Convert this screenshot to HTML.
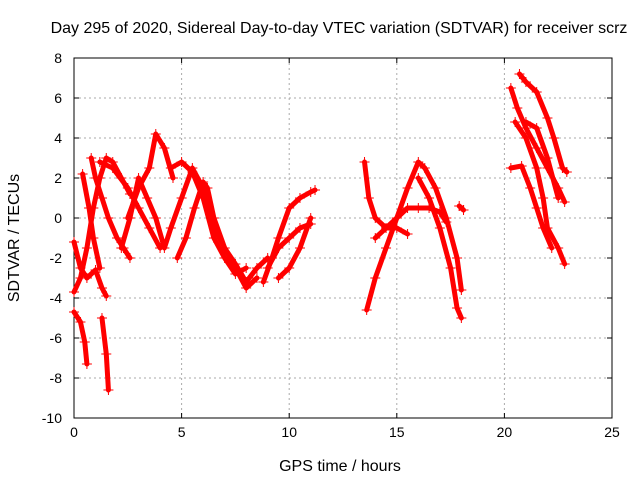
<!DOCTYPE html>
<html><head><meta charset="utf-8"><style>
body{margin:0;background:#fff;}
svg{display:block;font-family:"Liberation Sans",sans-serif;}
</style></head><body>
<svg id="chart" width="640" height="480"></svg>
<script>
const xTicks=[0,5,10,15,20,25];
const yTicks=[8,6,4,2,0,-2,-4,-6,-8,-10];
const tr1=[[0,-1.2],[0.3,-2.5],[0.6,-3],[1.0,-2.6],[1.3,-3.5],[1.5,-3.9]];
const tr2=[[0,-3.7],[0.3,-3],[0.6,-1.5],[0.9,0.5],[1.2,2],[1.5,3],[1.8,2.8],[2.2,2],[2.6,1.2]];
const tr3=[[0,-4.7],[0.3,-5.2],[0.5,-6.2],[0.6,-7.3]];
const tr4=[[1.3,-5],[1.5,-6.8],[1.6,-8.6]];
const tr5=[[0.4,2.2],[0.7,0.5],[0.9,-1],[1.2,-2.5]];
const tr6=[[0.8,3],[1,2],[1.3,1],[1.6,0],[2,-1],[2.3,-1.5],[2.6,-2]];
const tr7=[[1.2,2.8],[1.8,2.5],[2.5,1.5],[3,0.5],[3.5,-0.5],[4,-1.5]];
const tr8=[[2.5,0],[3,1.5],[3.5,2.5],[3.8,4.2],[4.2,3.5],[4.6,2]];
const tr9=[[2.2,-1.5],[2.6,0],[3,2],[3.4,1],[3.8,0],[4.2,-1.5],[4.5,-0.5],[5,1],[5.5,2.5],[6,1.5],[6.5,-0.5],[7,-1.5],[7.5,-2.3],[8,-3.2],[8.5,-2.5],[9,-2]];
const tr10=[[4.8,-2],[5.2,-1],[5.6,0.5],[6,1.8],[6.2,1.5],[6.5,0],[7,-1.5],[7.5,-2.5],[8,-3.5],[8.5,-3]];
const tr11=[[4.5,2.5],[5,2.8],[5.5,2.3],[6,1],[6.5,-1],[7,-2],[7.5,-2.8],[8,-2.5]];
const tr12=[[8.8,-3.2],[9.2,-2],[9.5,-1],[10,0.5],[10.5,1],[11,1.3],[11.2,1.4]];
const tr13=[[9,-2.5],[9.5,-1.5],[10,-1],[10.5,-0.5],[11,-0.3]];
const tr14=[[9.5,-3],[10,-2.5],[10.5,-1.5],[11,0]];
const tr15=[[13.5,2.8],[13.7,1],[14,0],[14.5,-0.5],[15,0],[15.5,0.5],[16,0.5],[16.5,0.5],[17,0.3],[17.3,-0.2]];
const tr16=[[13.6,-4.6],[14,-3],[14.5,-1.5],[15,0],[15.5,1.5],[16,2.8],[16.3,2.5],[16.8,1.5],[17.3,0],[17.8,-2],[18,-3.6]];
const tr17=[[14,-1],[14.5,-0.5],[15,-0.5],[15.5,-0.8]];
const tr18=[[16,2],[16.5,1],[17,-0.5],[17.5,-2.5],[17.8,-4.5],[18,-5]];
const tr19=[[17.9,0.6],[18.1,0.4]];
const tr20=[[20.3,6.5],[20.6,5.5],[21,4.5],[21.5,3.5],[22,2.5],[22.5,1.5],[22.8,0.8]];
const tr21=[[20.7,7.2],[21,6.8],[21.5,6.3],[22,5],[22.3,4],[22.7,2.5],[22.9,2.3]];
const tr22=[[20.3,2.5],[20.8,2.6],[21.2,1.5],[21.5,0.5],[21.8,-0.5],[22.2,-1.5]];
const tr23=[[20.5,4.8],[21,4],[21.5,2.5],[21.8,1],[22,-0.5],[22.5,-1.5],[22.8,-2.3]];
const tr24=[[21,4.8],[21.5,4.5],[22,3],[22.5,1]];
const tracks=[tr1,tr2,tr3,tr4,tr5,tr6,tr7,tr8,tr9,tr10,tr11,tr12,tr13,tr14,tr15,tr16,tr17,tr18,tr19,tr20,tr21,tr22,tr23,tr24];

const L=74,R=612,T=58,B=418;
const xs=t=>L+(t-0)/25*(R-L);
const ys=v=>T+(8-v)/18*(B-T);
const NS="http://www.w3.org/2000/svg";
const svg=document.getElementById('chart');
function mk(tag,attrs,parent){const e=document.createElementNS(NS,tag);for(const k in attrs)e.setAttribute(k,attrs[k]);(parent||svg).appendChild(e);return e;}

const grid=mk('g',{});


xTicks.forEach(t=>{
  if(t>0&&t<25){const l=mk('line',{x1:xs(t),x2:xs(t),y1:T,y2:B,stroke:'#aaa','stroke-dasharray':'2,3','stroke-width':1},grid);
  }
  const tk=mk('text',{x:xs(t),y:B+19,'text-anchor':'middle','font-size':14,fill:'#000'});
  tk.textContent=t;
  
  
  mk('line',{x1:xs(t),x2:xs(t),y1:B,y2:B-5,stroke:'#000'});
  mk('line',{x1:xs(t),x2:xs(t),y1:T,y2:T+5,stroke:'#000'});
});
yTicks.forEach(v=>{
  if(v<8&&v>-10){const l=mk('line',{x1:L,x2:R,y1:ys(v),y2:ys(v),stroke:'#aaa','stroke-dasharray':'2,3','stroke-width':1},grid);
  }
  const tk=mk('text',{x:L-12,y:ys(v)+5,'text-anchor':'end','font-size':14,fill:'#000'});
  tk.textContent=v;
  
  
  mk('line',{x1:L,x2:L+5,y1:ys(v),y2:ys(v),stroke:'#000'});
  mk('line',{x1:R,x2:R-5,y1:ys(v),y2:ys(v),stroke:'#000'});
});
const frame=mk('rect',{x:L,y:T,width:R-L,height:B-T,fill:'none',stroke:'#000'});



tracks.forEach(tr=>{
  const pts=tr.map(p=>xs(p[0])+','+ys(p[1])).join(' ');
  const pl=mk('polyline',{points:pts,fill:'none',stroke:'#f00','stroke-width':5,'stroke-linejoin':'round','stroke-linecap':'round'});
  
  
  tr.forEach(p=>{
    const x=xs(p[0]),y=ys(p[1]);
    const m=mk('path',{d:`M${x-5},${y}H${x+5}M${x},${y-5}V${y+5}`,stroke:'#f00','stroke-width':1});
    
    
  });
});

const title=mk('text',{x:339,y:33,'text-anchor':'middle','font-size':16,fill:'#000'});
title.textContent='Day 295 of 2020, Sidereal Day-to-day VTEC variation (SDTVAR) for receiver scrz';


const xl=mk('text',{x:340,y:471,'text-anchor':'middle','font-size':16,fill:'#000'});
xl.textContent='GPS time / hours';


const yl=mk('text',{x:19,y:238,'text-anchor':'middle','font-size':16,fill:'#000',transform:'rotate(-90 19 238)'});
yl.textContent='SDTVAR / TECUs';


</script>
</body></html>
